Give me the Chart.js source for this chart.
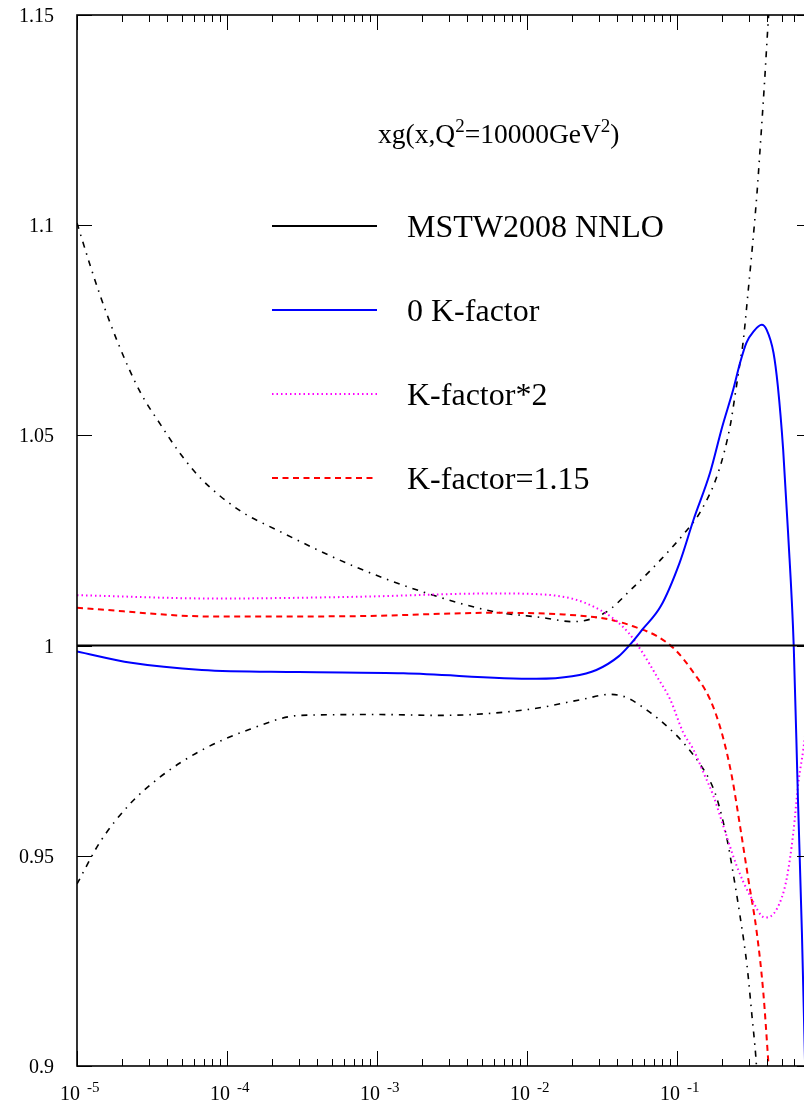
<!DOCTYPE html>
<html><head><meta charset="utf-8">
<script src="https://cdn.jsdelivr.net/npm/chart.js@4/dist/chart.umd.min.js"></script>
<style>html,body{margin:0;padding:0;background:#fff;overflow:hidden}#wrap{width:804px;height:1103px;overflow:hidden;position:relative;background:#fff}canvas{position:absolute;left:0;top:0}</style>
</head><body><div id="wrap"><canvas id="c" width="830" height="1103"></canvas></div>
<script>
// ---- tick labels ----
const xDecades = [1e-5, 1e-4, 1e-3, 1e-2, 1e-1];
const xDecadeExponents = ['-5', '-4', '-3', '-2', '-1'];
const yTicks = [0.9, 0.95, 1.0, 1.05, 1.1, 1.15];
const yTickLabels = ['0.9', '0.95', '1', '1.05', '1.1', '1.15'];
const seriesLabels = ['MSTW2008 NNLO', '0 K-factor', 'K-factor*2', 'K-factor=1.15'];

// ---- series ----
const mstwX = [1e-5, 0.794];
const mstwY = [1.0, 1.0];

const blueX = [1e-5, 2.3e-5, 6.8e-5, 3.0e-4, 1.5e-3, 0.0115, 0.020, 0.029, 0.041, 0.048, 0.059, 0.078, 0.104, 0.129, 0.166, 0.200, 0.237, 0.263, 0.290, 0.325, 0.367, 0.396, 0.44, 0.47, 0.51, 0.55, 0.60, 0.64, 0.68, 0.72];
const blueY = [0.9986, 0.9959, 0.9942, 0.9937, 0.9934, 0.9921, 0.9927, 0.9942, 0.9975, 1.0000, 1.0039, 1.0094, 1.0197, 1.0300, 1.0411, 1.0520, 1.0609, 1.0672, 1.0720, 1.0748, 1.0763, 1.0751, 1.0696, 1.0617, 1.0466, 1.0268, 0.9998, 0.9635, 0.9318, 0.895];

const magX = [1e-5, 8.45e-5, 7.1e-4, 6.0e-3, 0.0123, 0.0203, 0.0288, 0.0384, 0.0476, 0.059, 0.073, 0.090, 0.110, 0.1285, 0.150, 0.175, 0.2035, 0.250, 0.307, 0.386, 0.462, 0.538, 0.596, 0.644, 0.695, 0.75];
const magY = [1.0120, 1.0112, 1.0116, 1.0124, 1.0122, 1.0111, 1.0090, 1.0062, 1.0030, 0.9983, 0.9928, 0.9872, 0.9793, 0.9753, 0.9698, 0.9642, 0.9571, 0.9476, 0.9405, 0.9353, 0.9373, 0.9445, 0.9555, 0.9674, 0.9753, 0.985];

const redX = [1e-5, 8.45e-5, 7.1e-4, 6.0e-3, 0.0176, 0.0357, 0.0509, 0.073, 0.097, 0.129, 0.166, 0.1986, 0.2317, 0.263, 0.2986, 0.340, 0.376, 0.406, 0.42];
const redY = [1.0090, 1.0069, 1.0070, 1.0078, 1.0074, 1.0062, 1.0046, 1.0023, 0.99905, 0.99355, 0.9872, 0.9793, 0.9690, 0.9571, 0.9445, 0.9318, 0.9175, 0.9010, 0.893];

const upX = [1e-5, 1.22e-5, 1.42e-5, 1.875e-5, 2.63e-5, 3.57e-5, 4.87e-5, 6.8e-5, 1.22e-4, 2.12e-4, 7.1e-4, 2.09e-3, 6.0e-3, 0.0124, 0.0203, 0.0331, 0.0509, 0.0782, 0.116, 0.1424, 0.1884, 0.2256, 0.247, 0.263, 0.2754, 0.2944, 0.3414, 0.3575, 0.3828, 0.406, 0.42];
const upY = [1.1005, 1.0906, 1.0835, 1.0720, 1.0604, 1.0528, 1.0457, 1.0395, 1.0321, 1.0276, 1.0188, 1.0126, 1.0081, 1.0067, 1.0057, 1.0078, 1.0138, 1.0205, 1.0274, 1.0317, 1.0412, 1.0521, 1.0609, 1.0673, 1.0720, 1.0823, 1.1077, 1.1179, 1.1338, 1.1488, 1.156];

const lowX = [1e-5, 1.42e-5, 2.25e-5, 3.57e-5, 6.6e-5, 1.42e-4, 3.07e-4, 1.016e-3, 2.63e-3, 0.01016, 0.0233, 0.0357, 0.0457, 0.0661, 0.0857, 0.1096, 0.1424, 0.166, 0.185, 0.2154, 0.236, 0.263, 0.293, 0.316, 0.336, 0.345];
const lowY = [0.9433, 0.9532, 0.9623, 0.9687, 0.9749, 0.9801, 0.9834, 0.9836, 0.9834, 0.9848, 0.9872, 0.9884, 0.9877, 0.9841, 0.9808, 0.9770, 0.9718, 0.9678, 0.9635, 0.9540, 0.9461, 0.9357, 0.9238, 0.9119, 0.9017, 0.895];

const pts = (xs, ys) => xs.map((x, i) => ({x: x, y: ys[i]}));
const SERIF = '"Liberation Serif", "DejaVu Serif", serif';

const frame = {
  id: 'frame',
  afterDatasetsDraw(chart) {
    const ctx = chart.ctx, a = chart.chartArea;
    const xs = chart.scales.x, ys = chart.scales.y;
    ctx.save();
    ctx.strokeStyle = '#000';
    // ticks
    ctx.lineWidth = 1;
    ctx.beginPath();
    xDecades.forEach(d => {
      for (let k = 1; k <= 9; k++) {
        const v = d * k;
        if (v > xs.max) break;
        const px = Math.round(xs.getPixelForValue(v)) + 0.5;
        const len = k === 1 ? 15 : 7;
        ctx.moveTo(px, a.bottom); ctx.lineTo(px, a.bottom - len);
        ctx.moveTo(px, a.top); ctx.lineTo(px, a.top + len);
      }
    });
    yTicks.forEach(v => {
      const py = Math.round(ys.getPixelForValue(v)) + 0.5;
      ctx.moveTo(a.left, py); ctx.lineTo(a.left + 15, py);
      ctx.moveTo(a.right, py); ctx.lineTo(a.right - 15, py);
    });
    ctx.stroke();
    // frame
    ctx.lineWidth = 1.6;
    ctx.strokeRect(a.left, a.top, a.right - a.left, a.bottom - a.top);
    // y labels
    ctx.fillStyle = '#000';
    ctx.font = '20px ' + SERIF;
    ctx.textAlign = 'right';
    ctx.textBaseline = 'alphabetic';
    yTicks.forEach((v, i) => {
      const py = ys.getPixelForValue(v);
      ctx.fillText(yTickLabels[i], 54, py + 7);
    });
    // x labels
    ctx.textAlign = 'left';
    xDecades.forEach((d, i) => {
      const px = xs.getPixelForValue(d);
      ctx.font = '20px ' + SERIF;
      ctx.fillText('10', px - 17, 1100);
      ctx.font = '15px ' + SERIF;
      ctx.fillText(xDecadeExponents[i], px + 10, 1092);
    });
    // title
    let tx = 378; const tb = 143;
    const big = '27.5px ' + SERIF, sup = '19px ' + SERIF;
    [['xg(x,Q', big, 0], ['2', sup, -11], ['=10000GeV', big, 0], ['2', sup, -11], [')', big, 0]].forEach(p => {
      ctx.font = p[1];
      ctx.fillText(p[0], tx, tb + p[2]);
      tx += ctx.measureText(p[0]).width;
    });
    // legend
    const rows = [226, 310, 394, 478];
    chart.data.datasets.slice(0, 4).forEach((ds, i) => {
      const y = rows[i];
      ctx.save();
      ctx.strokeStyle = ds.borderColor;
      ctx.lineWidth = ds.borderWidth;
      ctx.setLineDash(ds.borderDash || []);
      ctx.beginPath(); ctx.moveTo(272, y); ctx.lineTo(377, y); ctx.stroke();
      ctx.restore();
      ctx.font = '32px ' + SERIF;
      ctx.fillStyle = '#000';
      ctx.fillText(ds.label, 407, y + 10.5);
    });
    ctx.restore();
  }
};

const common = {showLine: true, pointRadius: 0, pointHoverRadius: 0, fill: false, cubicInterpolationMode: 'monotone'};

new Chart(document.getElementById('c'), {
  type: 'scatter',
  data: {
    datasets: [
      Object.assign({label: seriesLabels[0], data: pts(mstwX, mstwY), borderColor: '#000000', borderWidth: 2}, common),
      Object.assign({label: seriesLabels[1], data: pts(blueX, blueY), borderColor: '#0000ff', borderWidth: 2}, common),
      Object.assign({label: seriesLabels[2], data: pts(magX, magY), borderColor: '#ff00ff', borderWidth: 2, borderDash: [1.5, 3]}, common),
      Object.assign({label: seriesLabels[3], data: pts(redX, redY), borderColor: '#ff0000', borderWidth: 2, borderDash: [6, 4.5]}, common),
      Object.assign({label: 'upper', data: pts(upX, upY), borderColor: '#000000', borderWidth: 1.6, borderDash: [6, 6, 1.5, 6]}, common),
      Object.assign({label: 'lower', data: pts(lowX, lowY), borderColor: '#000000', borderWidth: 1.6, borderDash: [6, 6, 1.5, 6]}, common)
    ]
  },
  options: {
    responsive: false,
    animation: false,
    devicePixelRatio: 1,
    layout: {padding: {left: 77, top: 15, right: 18, bottom: 37}},
    plugins: {legend: {display: false}, tooltip: {enabled: false}},
    scales: {
      x: {type: 'logarithmic', min: 1e-5, max: 0.794, display: false},
      y: {type: 'linear', min: 0.9, max: 1.15, display: false}
    }
  },
  plugins: [frame]
});
</script>
</body></html>
